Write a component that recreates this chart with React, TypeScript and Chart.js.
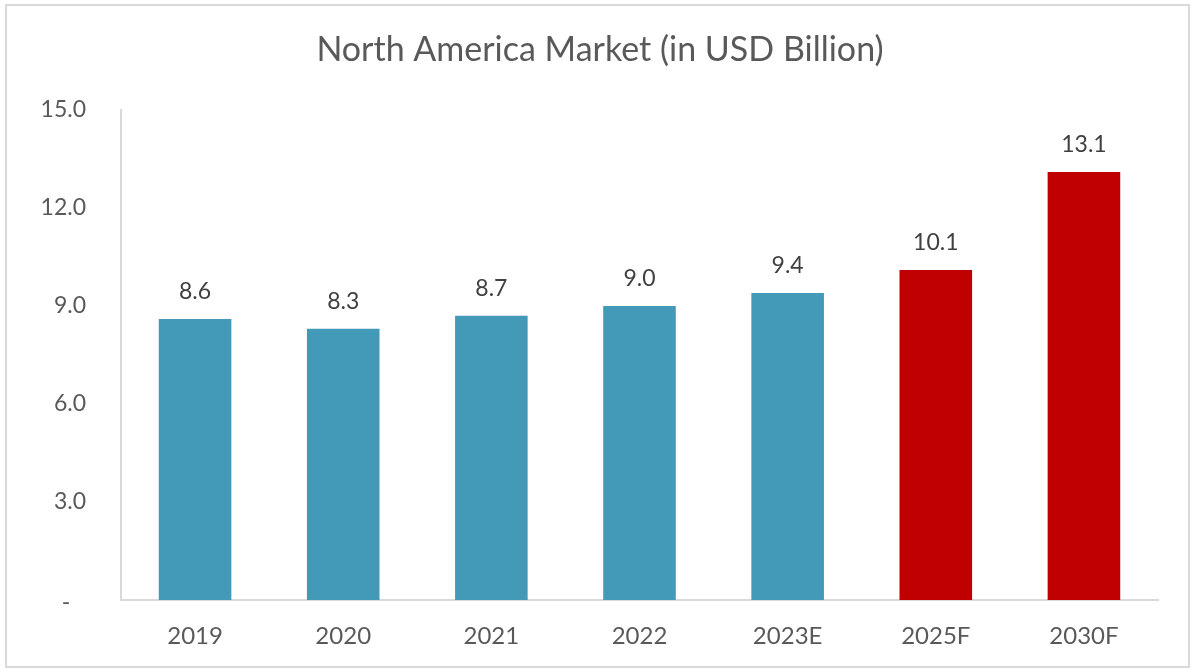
import React, { useEffect, useRef } from "react";
import { Chart, registerables } from "chart.js";

Chart.register(...registerables);

const categories = ["2019", "2020", "2021", "2022", "2023E", "2025F", "2030F"];
const values = [8.6, 8.3, 8.7, 9.0, 9.4, 10.1, 13.1];
const barColors = ["#4399B8", "#4399B8", "#4399B8", "#4399B8", "#4399B8", "#C00000", "#C00000"];
const yTicks = [0, 3, 6, 9, 12, 15];
const zeroTickLabel = "-";
const titleText = "North America Market (in USD Billion)";

const FONT = "Lato, 'Open Sans', sans-serif";

const labelPlugin = {
  id: "customLabels",
  afterDatasetsDraw(chart: any) {
    const ctx = chart.ctx;
    const meta = chart.getDatasetMeta(0);
    ctx.save();
    ctx.fillStyle = "#404040";
    ctx.font = `23px ${FONT}`;
    ctx.textAlign = "center";
    ctx.textBaseline = "alphabetic";
    meta.data.forEach((bar: any, i: number) => {
      ctx.fillText(values[i].toFixed(1), bar.x, bar.y - 20);
    });
    ctx.restore();
  },
  afterDraw(chart: any) {
    const ctx = chart.ctx;
    ctx.save();
    ctx.fillStyle = "#595959";
    ctx.font = `34px ${FONT}`;
    ctx.textAlign = "center";
    ctx.textBaseline = "middle";
    ctx.fillText(titleText, 600, 50);
    const yZero = chart.scales.y.getPixelForValue(0);
    ctx.font = `23px ${FONT}`;
    ctx.textAlign = "center";
    ctx.textBaseline = "middle";
    ctx.fillText(zeroTickLabel, 66, yZero + 3);
    ctx.restore();
  },
};

export default function App() {
  const ref = useRef<HTMLCanvasElement>(null);
  useEffect(() => {
    document.body.style.margin = "0";
    const chart = new Chart(ref.current!, {
      type: "bar",
      data: {
        labels: categories,
        datasets: [
          {
            data: values,
            backgroundColor: barColors,
            barPercentage: 0.98,
            categoryPercentage: 0.5,
          },
        ],
      },
      options: {
        animation: false,
        responsive: false,
        maintainAspectRatio: false,
        layout: { padding: { top: 110, right: 35, bottom: 0, left: 0 } },
        plugins: {
          legend: { display: false },
          title: { display: false },
          tooltip: { enabled: false },
        },
        scales: {
          x: {
            grid: { display: false, drawTicks: false },
            border: { display: true, color: "#d9d9d9", width: 2 },
            ticks: {
              color: "#595959",
              font: { family: FONT, size: 24 },
              padding: 22,
              maxRotation: 0,
            },
            afterFit(scale: any) {
              scale.height = 72;
            },
          },
          y: {
            min: 0,
            max: 15,
            grid: { display: false, drawTicks: false },
            border: { display: true, color: "#d9d9d9", width: 2 },
            afterBuildTicks(scale: any) {
              scale.ticks = yTicks.map((v) => ({ value: v }));
            },
            ticks: {
              color: "#595959",
              font: { family: FONT, size: 23 },
              padding: 35,
              callback: (v: any) => (Number(v) === 0 ? "" : Number(v).toFixed(1)),
            },
            afterFit(scale: any) {
              scale.width = 121;
            },
          },
        },
      },
      plugins: [labelPlugin],
    });
    return () => chart.destroy();
  }, []);
  return (
    <div style={{ position: "relative", width: 1193, height: 672, background: "#fff" }}>
      <div
        style={{
          position: "absolute",
          left: 5,
          top: 4,
          width: 1185,
          height: 664,
          border: "2px solid #d9d9d9",
          boxSizing: "border-box",
        }}
      />
      <canvas ref={ref} width={1193} height={672} style={{ position: "absolute", left: 0, top: 0 }} />
    </div>
  );
}
